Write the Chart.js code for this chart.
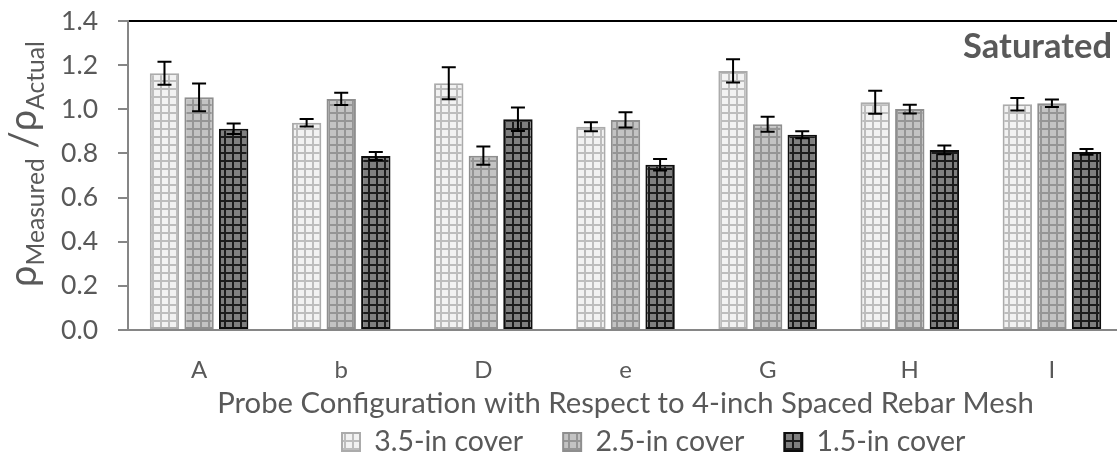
<!DOCTYPE html>
<html><head><meta charset="utf-8">
<script src="https://cdn.jsdelivr.net/npm/chart.js@4"></script>
<style>
html,body{margin:0;padding:0;overflow:hidden;background:#fff;width:1117px;height:459px}
canvas{display:block}
</style></head>
<body><canvas id="c" width="1125" height="459"></canvas>
<script>
// ---- data ----
const categories = ['A', 'b', 'D', 'e', 'G', 'H', 'I'];
const seriesNames = ['3.5-in cover', '2.5-in cover', '1.5-in cover'];
const cover35 = [1.163, 0.939, 1.118, 0.921, 1.174, 1.032, 1.023];
const cover25 = [1.054, 1.047, 0.790, 0.952, 0.932, 1.001, 1.027];
const cover15 = [0.912, 0.788, 0.955, 0.749, 0.885, 0.816, 0.807];
const err35 = [0.052, 0.017, 0.073, 0.020, 0.053, 0.052, 0.028];
const err25 = [0.063, 0.028, 0.041, 0.035, 0.034, 0.020, 0.017];
const err15 = [0.024, 0.018, 0.053, 0.026, 0.016, 0.020, 0.013];
const yTickLabels = ['0.0', '0.2', '0.4', '0.6', '0.8', '1.0', '1.2', '1.4'];
const xTitle = 'Probe Configuration with Respect to 4-inch Spaced Rebar Mesh';
const panelLabel = 'Saturated';

// ---- styling ----
const FAM = 'Lato, "Open Sans", sans-serif';
const TXT = '#595959';
const mctx = document.createElement('canvas').getContext('2d');
function fitSize(text, w, weight) {
  mctx.font = (weight || 'normal') + ' 100px ' + FAM;
  return 100 * w / mctx.measureText(text).width;
}
const tickSize = fitSize('1.4', 37);
const catSize = 24;
const titleSize = fitSize(xTitle, 817);
const legendSize = fitSize('3.5-in cover', 149);
const satSize = fitSize(panelLabel, 149, 'bold');

const canvas = document.getElementById('c');
const ctx = canvas.getContext('2d');
function gridPattern(bg, line, size, lw) {
  const c = document.createElement('canvas');
  c.width = c.height = size;
  const g = c.getContext('2d');
  g.fillStyle = bg; g.fillRect(0, 0, size, size);
  g.fillStyle = line; g.fillRect(0, 0, size, lw); g.fillRect(0, 0, lw, size);
  return ctx.createPattern(c, 'repeat');
}
const pat35 = gridPattern('#f2f2f2', '#bdbdbd', 8, 2);
const pat25 = gridPattern('#c3c3c3', '#959595', 8, 2);
const pat15 = gridPattern('#7f7f7f', '#1c1c1c', 8, 2);

const LEG_H = 30;
const PLOT_BOTTOM = 330;

Chart.defaults.font.family = FAM;

const errorBars = {
  id: 'errorBars',
  afterDatasetsDraw(chart) {
    const c = chart.ctx, ys = chart.scales.y;
    c.save();
    c.strokeStyle = '#000'; c.lineWidth = 2;
    chart.data.datasets.forEach((ds, i) => {
      const meta = chart.getDatasetMeta(i);
      meta.data.forEach((bar, j) => {
        const v = ds.data[j], e = ds.errors[j];
        const yt = ys.getPixelForValue(v + e), yb = ys.getPixelForValue(v - e);
        c.beginPath();
        c.moveTo(bar.x, yt); c.lineTo(bar.x, yb);
        c.moveTo(bar.x - 7, yt); c.lineTo(bar.x + 7, yt);
        c.moveTo(bar.x - 7, yb); c.lineTo(bar.x + 7, yb);
        c.stroke();
      });
    });
    c.restore();
  }
};

const extras = {
  id: 'extras',
  afterInit(chart) {
    const lg = chart.legend;
    const f = lg.fit;
    lg.fit = function () { f.call(this); this.height = LEG_H; };
  },
  afterLayout(chart) {
    const lg = chart.legend;
    const pad = lg.options.labels.padding;
    lg.top = 442 - pad - legendSize / 2;
    lg.bottom = 459;
    const w = lg.right - lg.left;
    lg.left = 342 - pad;
    lg.right = lg.left + w;
  },
  afterDraw(chart) {
    const c = chart.ctx;
    c.save();
    // panel label
    c.fillStyle = TXT;
    c.font = 'bold ' + satSize + 'px ' + FAM;
    c.textAlign = 'right'; c.textBaseline = 'alphabetic';
    c.fillText(panelLabel, 1112, 58);
    // y-axis title with subscripts
    const segs = [['ρ', 0], ['Measured', 1], [' /', 0], ['ρ', 0], ['Actual', 1]];
    const B0 = 34, S0 = 22;
    let tot = 0;
    segs.forEach(s => { c.font = (s[1] ? S0 : B0) + 'px ' + FAM; tot += c.measureText(s[0]).width; });
    const k = 246 / tot;
    const B = B0 * k, S = S0 * k;
    c.translate(36, 287);
    c.rotate(-Math.PI / 2);
    c.textAlign = 'left';
    let x = 0;
    segs.forEach(s => {
      c.font = (s[1] ? S : B) + 'px ' + FAM;
      c.fillText(s[0], x, s[1] ? 0.22 * B : 0);
      x += c.measureText(s[0]).width;
    });
    c.restore();
  }
};

const chart = new Chart(ctx, {
  type: 'bar',
  data: {
    labels: categories,
    datasets: [
      { label: seriesNames[0], data: cover35, errors: err35, backgroundColor: pat35, borderColor: '#ababab', borderWidth: 2, borderSkipped: false },
      { label: seriesNames[1], data: cover25, errors: err25, backgroundColor: pat25, borderColor: '#8e8e8e', borderWidth: 2, borderSkipped: false },
      { label: seriesNames[2], data: cover15, errors: err15, backgroundColor: pat15, borderColor: '#0d0d0d', borderWidth: 2, borderSkipped: false }
    ]
  },
  options: {
    responsive: false,
    animation: false,
    layout: { padding: { top: 21, right: 2, left: 0, bottom: 0 } },
    datasets: { bar: { categoryPercentage: 0.73, barPercentage: 0.85 } },
    plugins: {
      legend: {
        position: 'bottom', align: 'start',
        labels: { boxWidth: 18, boxHeight: 18, padding: 40, color: TXT, font: { size: legendSize } }
      },
      tooltip: { enabled: false }
    },
    scales: {
      x: {
        grid: { display: false, drawTicks: false },
        border: { color: '#868686', width: 2 },
        ticks: { color: TXT, font: { size: catSize }, padding: 26 },
        title: { display: true, text: xTitle, color: TXT, font: { size: titleSize }, padding: { top: 0, bottom: 429 - 404 - titleSize * 0.6 } },
        afterFit(s) { s.height = 459 - PLOT_BOTTOM - LEG_H; }
      },
      y: {
        min: 0, max: 1.4,
        ticks: { stepSize: 0.2, color: TXT, font: { size: tickSize }, padding: 20, callback: (v, i) => yTickLabels[i] },
        grid: {
          color: c => (c.tick && Math.abs(c.tick.value - 1.4) < 1e-6) ? '#000' : 'rgba(0,0,0,0)',
          lineWidth: 2, tickColor: '#868686', tickLength: 10, tickWidth: 2
        },
        border: { color: '#868686', width: 2 },
        afterFit(s) { s.width = 128; s.paddingTop = 0; s.paddingBottom = 0; }
      }
    }
  },
  plugins: [errorBars, extras]
});
</script>
</body></html>
